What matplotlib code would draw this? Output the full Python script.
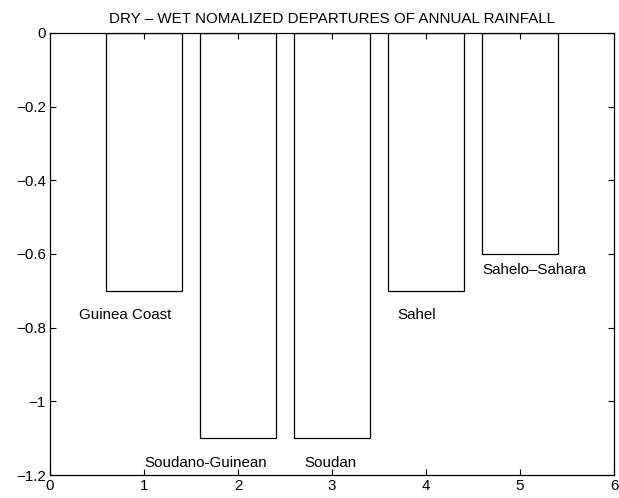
import matplotlib
matplotlib.use("Agg")
import matplotlib.pyplot as plt

plt.rcParams['font.family'] = ['Liberation Sans', 'DejaVu Sans']

regions = ["Guinea Coast", "Soudano-Guinean", "Soudan", "Sahel", "Sahelo\u2013Sahara"]
positions = [1, 2, 3, 4, 5]
departures = [-0.7, -1.1, -1.1, -0.7, -0.6]
label_x = [0.31, 1.0, 2.71, 3.70, 4.60]
label_y = [-0.766, -1.167, -1.167, -0.766, -0.643]
xticks = [0, 1, 2, 3, 4, 5, 6]
yticks = [0, -0.2, -0.4, -0.6, -0.8, -1.0, -1.2]
ytick_labels = ["0", "\u22120.2", "\u22120.4", "\u22120.6", "\u22120.8", "\u22121", "\u22121.2"]

fig = plt.figure(figsize=(6.19, 4.98), dpi=100)
ax = fig.add_axes([0.0808, 0.046, 0.9112, 0.888])

ax.bar(positions, departures, width=0.8, bottom=0, facecolor='white',
       edgecolor='black', linewidth=0.9, align='center')

for name, x, y in zip(regions, label_x, label_y):
    ax.text(x, y, name, fontsize=10.9, ha='left', va='center')

ax.set_xlim(0, 6)
ax.set_ylim(-1.2, 0)
ax.set_xticks(xticks)
ax.set_xticklabels([str(t) for t in xticks])
ax.set_yticks(yticks)
ax.set_yticklabels(ytick_labels)
ax.tick_params(direction='in', top=True, right=True, length=4, width=0.8,
               labelsize=10.9, pad=3)
for s in ax.spines.values():
    s.set_linewidth(0.9)

ax.set_title("DRY \u2013 WET NOMALIZED DEPARTURES OF ANNUAL RAINFALL",
             fontsize=10.9, pad=7)

fig.savefig("out.png", dpi=100)
